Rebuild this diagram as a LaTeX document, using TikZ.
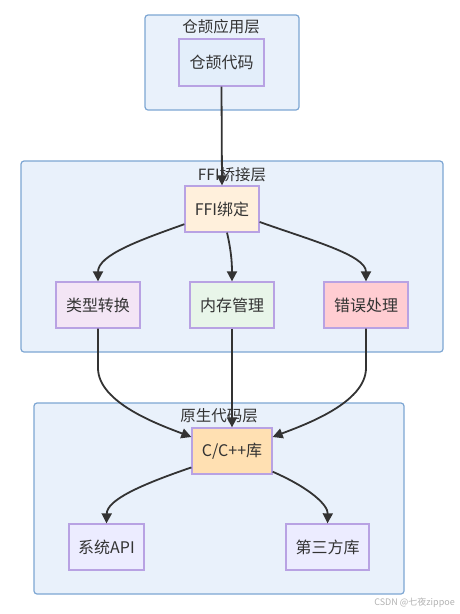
\documentclass[tikz,border=0pt]{standalone}
\usepackage{fontspec}
\setmainfont{Noto Sans CJK SC}
\usetikzlibrary{arrows.meta}
\definecolor{clfill}{HTML}{E9F1FB}
\definecolor{cldraw}{HTML}{7DA6D3}
\definecolor{nborder}{HTML}{B8A2E3}
\definecolor{txt}{HTML}{333333}
\definecolor{fcode}{HTML}{E3EEFA}
\definecolor{fffi}{HTML}{FFF0DC}
\definecolor{ftype}{HTML}{F3E5F5}
\definecolor{fmem}{HTML}{E8F5E9}
\definecolor{ferr}{HTML}{FFCDD2}
\definecolor{fcpp}{HTML}{FFE0B2}
\definecolor{fnat}{HTML}{ECECFF}
\tikzset{
  cluster/.style={draw=cldraw, fill=clfill, line width=1.2pt, rounded corners=3pt},
  ctitle/.style={text=txt, font=\fontsize{15.5}{16}\selectfont, inner sep=0pt},
  box/.style={draw=nborder, line width=1.3pt, minimum height=46pt, inner sep=0pt,
    text=txt, font=\fontsize{16}{16}\selectfont},
  arr/.style={draw=txt, line width=1.8pt, -{Triangle[length=10pt,width=10pt]}}
}
\begin{document}
\begin{tikzpicture}[x=1pt,y=-1pt]
\useasboundingbox (0,0) rectangle (459,614);
% clusters
\draw[cluster] (145,15) rectangle (299,110);
\draw[cluster] (21,161) rectangle (443,352);
\draw[cluster] (34,403) rectangle (404,594);
\node[ctitle] (t1) at (221,27) {仓颉应用层};
\node[ctitle] (t2) at (232,175) {FFI桥接层};
\node[ctitle] (t3) at (219,416) {原生代码层};
% nodes
\node[box, fill=fcode, minimum width=85pt, minimum height=47pt] (code) at (221.5,62.5) {仓颉代码};
\node[box, fill=fffi, minimum width=74pt] (ffi) at (222,209) {FFI绑定};
\node[box, fill=ftype, minimum width=84pt] (type) at (98,305) {类型转换};
\node[box, fill=fmem, minimum width=84pt] (mem) at (232,305) {内存管理};
\node[box, fill=ferr, minimum width=84pt] (err) at (366,305) {错误处理};
\node[box, fill=fcpp, minimum width=80pt] (cpp) at (232,451) {C/C++库};
\node[box, fill=fnat, minimum width=75pt] (sys) at (106.5,547) {系统API};
\node[box, fill=fnat, minimum width=83pt] (third) at (327.5,547) {第三方库};
% edges
\draw[arr] (code.south) -- (ffi.north);
\draw[arr] (ffi.202) .. controls (140,240) and (98,255) .. (type.north);
\draw[arr] (ffi.282) .. controls (231,250) and (232,262) .. (mem.north);
\draw[arr] (ffi.341) .. controls (310,240) and (366,255) .. (err.north);
\draw[arr] (type.south) -- (98,368) .. controls (98,403) and (160,425) .. (cpp.161);
\draw[arr] (mem.south) -- (cpp.north);
\draw[arr] (err.south) -- (366,368) .. controls (366,403) and (304,425) .. (cpp.19);
\draw[arr] (cpp.202) .. controls (140,485) and (107,500) .. (sys.north);
\draw[arr] (cpp.333) .. controls (310,488) and (328,505) .. (third.north);
% watermark
\node[anchor=east, text=black!30, font=\fontsize{9}{9}\selectfont, inner sep=0pt] (wm) at (455,603) {CSDN @七夜zippoe};
\end{tikzpicture}
\end{document}
